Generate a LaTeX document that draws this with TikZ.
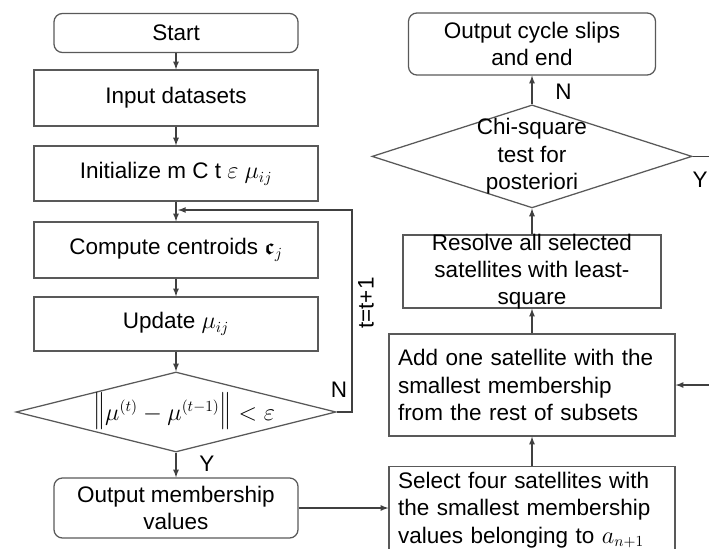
\documentclass[tikz,border=0pt]{standalone}
\usepackage{amsmath,amssymb}
\usepackage{fontspec}
\setmainfont{Liberation Sans}
\usetikzlibrary{shapes.geometric}
\newcommand{\tallnorm}{\scalebox{1}[1.55]{$\|$}}

\begin{document}
\begin{tikzpicture}[
  font=\fontsize{16}{19.5}\selectfont,
  procbox/.style={draw=black!65, line width=0.9pt, minimum width=7.1cm, align=center},
  termbox/.style={draw=black!65, line width=0.9pt, rounded corners=6pt, minimum width=6.1cm, align=center},
  decision/.style={draw=black!65, line width=0.9pt, diamond, inner sep=0pt},
  link/.style={->, >=latex, draw=black!75, line width=0.9pt},
]
\path[use as bounding box, clip] (0,0) rectangle (17.725,13.7);

% left column: clustering loop
\node[termbox, minimum height=0.975cm] (start) at (4.4,12.875) {Start};
\node[procbox, minimum height=1.4cm] (input) at (4.4,11.25) {Input datasets};
\node[procbox, minimum height=1.375cm] (init) at (4.4,9.36) {Initialize m C t $\varepsilon$ $\mu_{ij}$};
\node[procbox, minimum height=1.4cm] (centroid) at (4.4,7.45) {Compute centroids $\boldsymbol{\mathfrak{c}}_j$};
\node[procbox, minimum height=1.35cm] (update) at (4.4,5.6) {Update $\mu_{ij}$};
\node[decision, minimum width=8.0cm, minimum height=2cm] (conv) at (4.4,3.4) {};
\node (convtxt) at (4.6,3.42) {$\mathopen{\tallnorm}\mu^{(t)}-\mu^{(t-1)}\mathclose{\tallnorm} < \varepsilon$};
\node[termbox, minimum height=1.5cm] (outmem) at (4.4,1.0) {Output membership\\values};

% right column: satellite selection
\node[termbox, minimum width=6.175cm, minimum height=1.55cm] (outslip) at (13.3,12.6) {Output cycle slips\\and end};
\node[decision, minimum width=8.0cm, minimum height=2.575cm] (chi) at (13.3,9.79) {};
\node[align=center] (chitxt) at (chi) {Chi-square\\test for\\posteriori};
\node[procbox, minimum width=6.45cm, minimum height=1.825cm] (resolve) at (13.3,6.91) {};
\node[align=center] (resolvetxt) at (resolve) {Resolve all selected\\satellites with least-\\square};
\node[procbox, minimum width=7.15cm, minimum height=2.55cm, text width=6.7cm, align=left] (addsat) at (13.3,4.075) {Add one satellite with the\\smallest membership\\from the rest of subsets};
\node[procbox, minimum width=7.15cm, minimum height=2.175cm, text width=6.7cm, align=left, anchor=north] (select) at (13.3,2.05) {Select four satellites with\\the smallest membership\\values belonging to $a_{n+1}$};

\coordinate (loopup) at (8.8,8.45);
\coordinate (loopin) at (4.45,8.45);
\coordinate (yexit) at (17.725,9.79);
\coordinate (addin) at (17.725,4.075);

\draw[link] (start) -- (input);
\draw[link] (input) -- (init);
\draw[link] (init) -- (centroid);
\draw[link] (centroid) -- (update);
\draw[link] (update) -- (conv);
\draw[link] (conv) -- node[pos=0.45, right=0.45cm] {Y} (outmem);
\draw[link] (conv.east) -| (loopup) -- (loopin);
\draw[link] (outmem.east) -- (outmem.east -| select.west);

\draw[link] (select) -- (addsat);
\draw[link] (addsat) -- (resolve);
\draw[link] (resolve) -- (chi);
\draw[link] (chi) -- node[pos=0.45, right=0.45cm] {N} (outslip);
\draw[draw=black!75, line width=0.9pt] (chi.east) -- (yexit);
\draw[link] (addin) -- (addsat);

\node at (8.475,3.95) {N};
\node at (17.5,9.2) {Y};
\node[rotate=90] at (9.15,6.125) {t=t+1};
\end{tikzpicture}
\end{document}
